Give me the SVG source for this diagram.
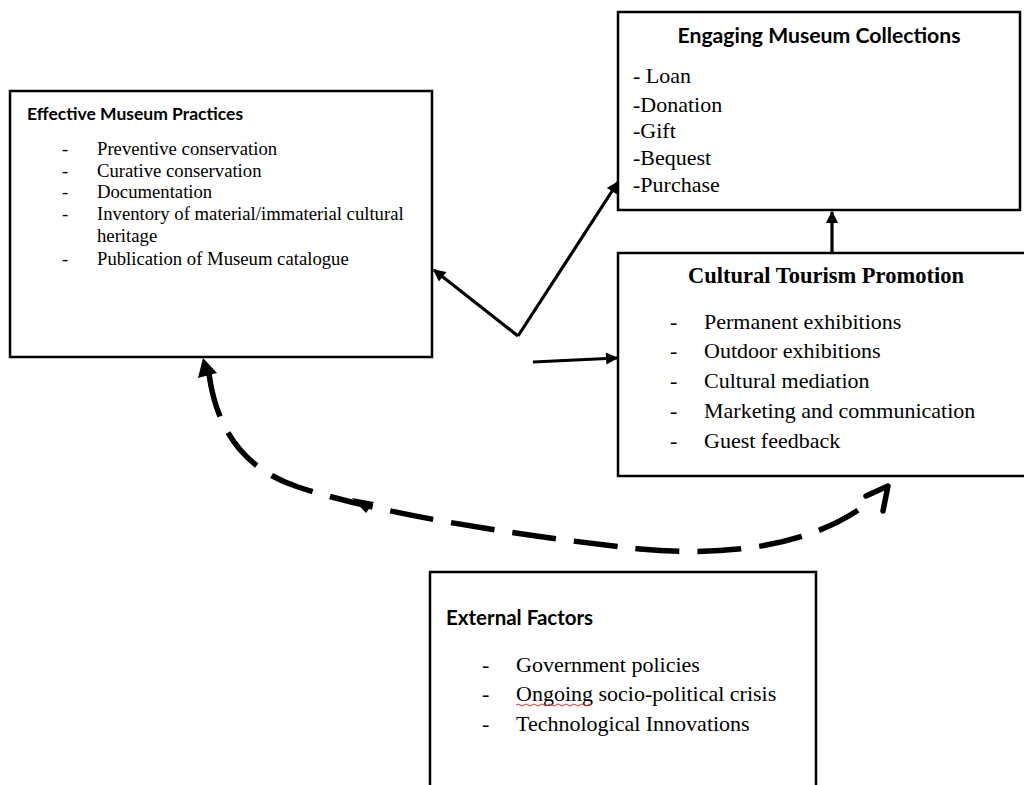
<svg xmlns="http://www.w3.org/2000/svg" width="1024" height="785" viewBox="0 0 1024 785">
<style>
.box{fill:#fff;stroke:#000;stroke-width:2.5}
.hs{font-family:Lato,"Liberation Sans",sans-serif;font-weight:bold;fill:#000}
.t{font-family:"Liberation Serif","Times New Roman",serif;fill:#000}
.tb{font-family:"Liberation Serif","Times New Roman",serif;font-weight:bold;fill:#000}
.ln{stroke:#000;stroke-width:3.2;fill:none}
.dash{stroke:#000;stroke-width:5.5;fill:none;stroke-dasharray:44 18;stroke-linecap:butt}
</style>
<defs>
<marker id="ah" viewBox="0 0 10 10" refX="9" refY="5" markerWidth="4.6" markerHeight="3.8" orient="auto" markerUnits="strokeWidth">
<path d="M0,0 L10,5 L0,10 z" fill="#000"/>
</marker>
</defs>
<rect width="1024" height="785" fill="#fff"/>

<g id="effective-museum-practices">
<rect class="box" x="10" y="91" width="422" height="266"/>
<text class="hs" x="27" y="120" font-size="17.5">Effective Museum Practices</text>
<g class="t" font-size="18.7" xml:space="preserve">
<text x="62" y="155">-</text><text x="97" y="155">Preventive conservation</text>
<text x="62" y="177">-</text><text x="97" y="177">Curative  conservation</text>
<text x="62" y="198">-</text><text x="97" y="198">Documentation</text>
<text x="62" y="220">-</text><text x="97" y="220">Inventory of material/immaterial  cultural</text>
<text x="97" y="242">heritage</text>
<text x="62" y="265">-</text><text x="97" y="265">Publication  of Museum catalogue</text>
</g>
</g>

<g id="engaging-museum-collections">
<rect class="box" x="618" y="12" width="402" height="198"/>
<text class="hs" x="819" y="43" font-size="21.2" text-anchor="middle">Engaging Museum Collections</text>
<g class="t" font-size="22">
<text x="633" y="83">- Loan</text>
<text x="633" y="112">-Donation</text>
<text x="633" y="138">-Gift</text>
<text x="633" y="165">-Bequest</text>
<text x="633" y="192">-Purchase</text>
</g>
</g>

<g id="cultural-tourism-promotion">
<rect class="box" x="618" y="253" width="408" height="223"/>
<text class="tb" x="826" y="283" font-size="22.5" text-anchor="middle">Cultural Tourism Promotion</text>
<g class="t" font-size="22" xml:space="preserve">
<text x="670" y="329">-</text><text x="704" y="329">Permanent exhibitions</text>
<text x="670" y="358">-</text><text x="704" y="358">Outdoor exhibitions</text>
<text x="670" y="388">-</text><text x="704" y="388">Cultural mediation</text>
<text x="670" y="418">-</text><text x="704" y="418">Marketing and communication</text>
<text x="670" y="448">-</text><text x="704" y="448">Guest  feedback</text>
</g>
</g>

<g id="external-factors">
<rect class="box" x="430" y="572" width="386" height="230"/>
<text class="hs" x="446" y="625" font-size="20.5">External Factors</text>
<g class="t" font-size="22" xml:space="preserve">
<text x="482" y="672">-</text><text x="516" y="672">Government policies</text>
<text x="482" y="701">-</text><text x="516" y="701">Ongoing socio-political  crisis</text>
<text x="482" y="731">-</text><text x="516" y="731">Technological  Innovations</text>
</g>
<path d="M516,705 q2,-2 4,0 t4,0 t4,0 t4,0 t4,0 t4,0 t4,0 t4,0 t4,0 t4,0 t4,0 t4,0 t4,0 t4,0 t4,0 t4,0 t4,0 t4,0 t4,0" fill="none" stroke="#e03030" stroke-width="1"/>
</g>

<g id="connectors">
<line class="ln" x1="518" y1="336" x2="434" y2="270" marker-end="url(#ah)"/>
<line class="ln" x1="518" y1="336" x2="618" y2="182" marker-end="url(#ah)"/>
<line class="ln" x1="533" y1="362" x2="617" y2="358" marker-end="url(#ah)"/>
<line class="ln" x1="832" y1="253" x2="832" y2="212" marker-end="url(#ah)"/>
<path class="dash" d="M209,374 C216,425 240,468 298,487 C380,514 520,536 640,549 C740,558 820,542 872,500"/>
<path d="M203,358 L198,378 L217,373 z" fill="#000"/>
<path d="M352,498 L374,502 L366,513 z" fill="#000"/>
<path d="M866,496 L888,486 L883,511" fill="none" stroke="#000" stroke-width="5.5" stroke-linejoin="round" stroke-linecap="round"/>
</g>
</svg>
